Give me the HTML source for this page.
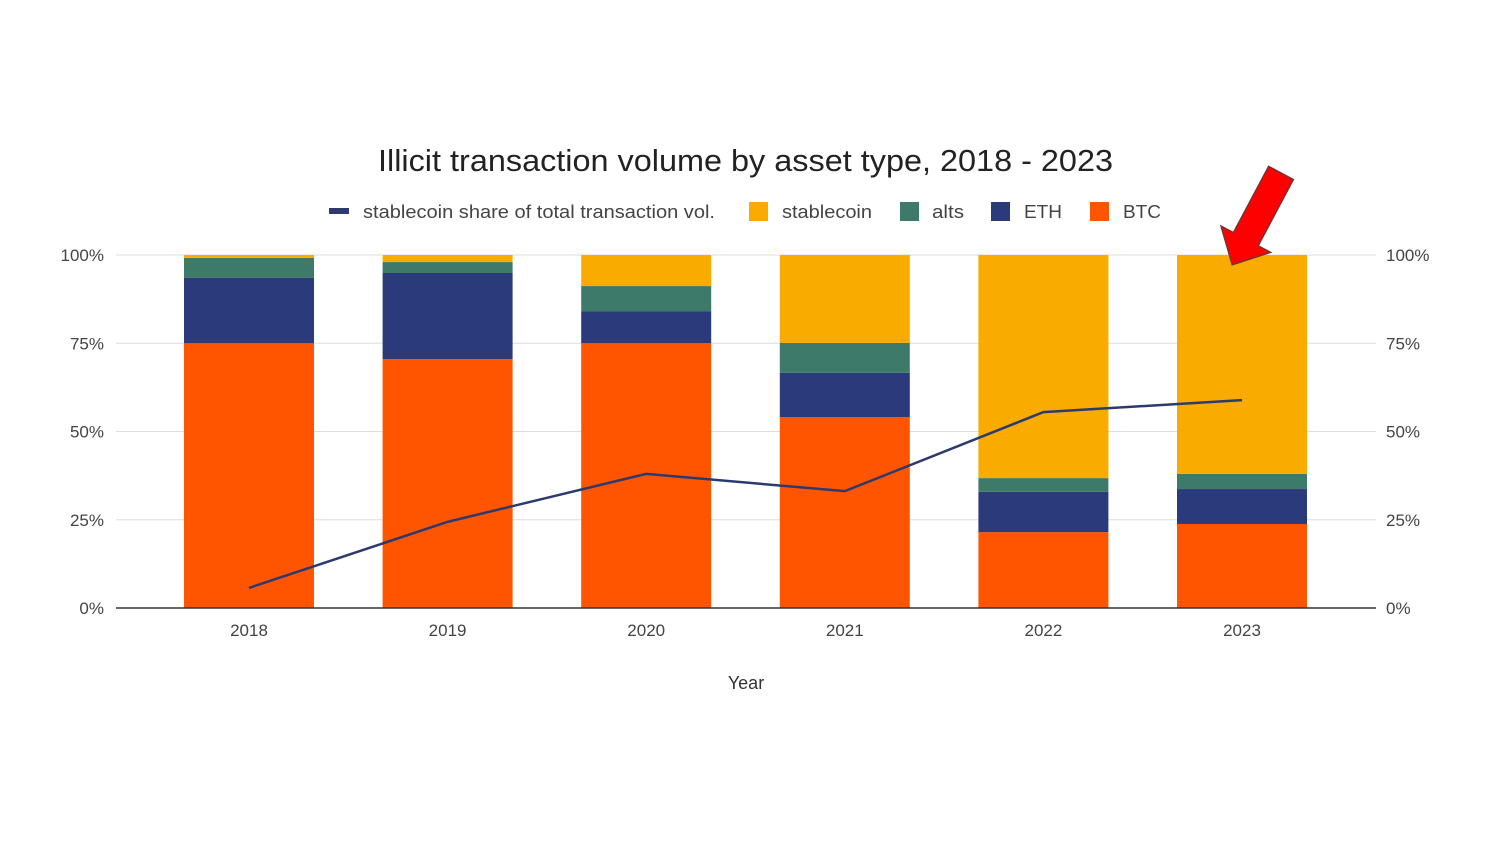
<!DOCTYPE html>
<html><head><meta charset="utf-8"><style>
body{margin:0;background:#fff;font-family:"Liberation Sans",Arial,sans-serif}
svg text{font-family:"Liberation Sans",Arial,sans-serif}
</style></head><body>
<svg id="c" width="1500" height="844" viewBox="0 0 1500 844" xmlns="http://www.w3.org/2000/svg">
<text x="378" y="171" textLength="735" lengthAdjust="spacingAndGlyphs" font-size="31" fill="#222">Illicit transaction volume by asset type, 2018 - 2023</text>
<g>
<g><rect x="329" y="208" width="20" height="6" fill="#2c3a6e"/><text x="363" y="218" font-size="18" textLength="352" lengthAdjust="spacingAndGlyphs" fill="#444">stablecoin share of total transaction vol.</text></g>
<g><rect x="749" y="202" width="19" height="19" fill="#f9ab00"/><text x="782" y="218" font-size="18" textLength="90" lengthAdjust="spacingAndGlyphs" fill="#444">stablecoin</text></g>
<g><rect x="900" y="202" width="19" height="19" fill="#3d7a6a"/><text x="932" y="218" font-size="18" textLength="32" lengthAdjust="spacingAndGlyphs" fill="#444">alts</text></g>
<g><rect x="991" y="202" width="19" height="19" fill="#2b3a7a"/><text x="1024" y="218" font-size="18" textLength="38" lengthAdjust="spacingAndGlyphs" fill="#444">ETH</text></g>
<g><rect x="1090" y="202" width="19" height="19" fill="#ff5500"/><text x="1123" y="218" font-size="18" textLength="38" lengthAdjust="spacingAndGlyphs" fill="#444">BTC</text></g>
</g>
<g id="grid"></g>
<g id="bars"></g>
<g id="axes"></g>
<text x="746" y="689" text-anchor="middle" font-size="18" fill="#333">Year</text>
<g transform="translate(1281,173) rotate(118)">
<polygon points="0,-14 75,-14 75,-28 104,0 75,28 75,14 0,14" fill="#ff0000" stroke="#7a3030" stroke-width="1.5"/>
</g>
</svg>
<script>
const years=["2018","2019","2020","2021","2022","2023"];
const btc=[75,70.5,75,54.1,21.5,23.8];
const eth=[18.5,24.4,9.1,12.5,11.4,9.9];
const alts=[5.7,3.1,7.1,8.5,3.9,4.3];
const stable=[0.8,2,8.8,24.9,63.2,62];
const share=[5.7,24.4,38,33.1,55.5,58.9];
const ticks=[0,25,50,75,100];
const NS="http://www.w3.org/2000/svg";
const y0=608,y1=255,xL=116,xR=1376;
const yS=v=>y0-(v/100)*(y0-y1);
const step=198.6;
const xC=i=>249+step*i;
const bw=130;
function mk(t,a,p){const e=document.createElementNS(NS,t);for(const k in a)e.setAttribute(k,a[k]);p.appendChild(e);return e;}
const grid=document.getElementById('grid'),bars=document.getElementById('bars'),axes=document.getElementById('axes');
ticks.forEach(t=>{
 const l=mk('line',{x1:xL,x2:xR,y1:yS(t),y2:yS(t),stroke:t===0?'#333':'#ddd','stroke-width':t===0?1.5:1},t===0?axes:grid);
 
 
 const a=mk('text',{x:104,y:yS(t)+6,'text-anchor':'end','font-size':17,fill:'#444'},axes);a.textContent=t+'%';
 
 
 const b=mk('text',{x:1386,y:yS(t)+6,'font-size':17,fill:'#444'},axes);b.textContent=t+'%';
 
 
});
const series=[[btc,'#ff5500','btc'],[eth,'#2b3a7a','eth'],[alts,'#3d7a6a','alts'],[stable,'#f9ab00','stablecoin']];
years.forEach((yr,i)=>{
 let acc=0;
 series.forEach(([arr,col,nm])=>{
  const v=arr[i];
  const r=mk('rect',{x:xC(i)-bw/2,y:yS(acc+v),width:bw,height:yS(acc)-yS(acc+v),fill:col},bars);
  
  
  acc+=v;
 });
 const t=mk('text',{x:xC(i),y:636,'text-anchor':'middle','font-size':17,fill:'#444'},axes);t.textContent=yr;
 
 
});
const pl=mk('polyline',{points:share.map((v,i)=>xC(i)+','+yS(v)).join(' '),fill:'none',stroke:'#2c3a6e','stroke-width':2.5},bars);


</script>
</body></html>
